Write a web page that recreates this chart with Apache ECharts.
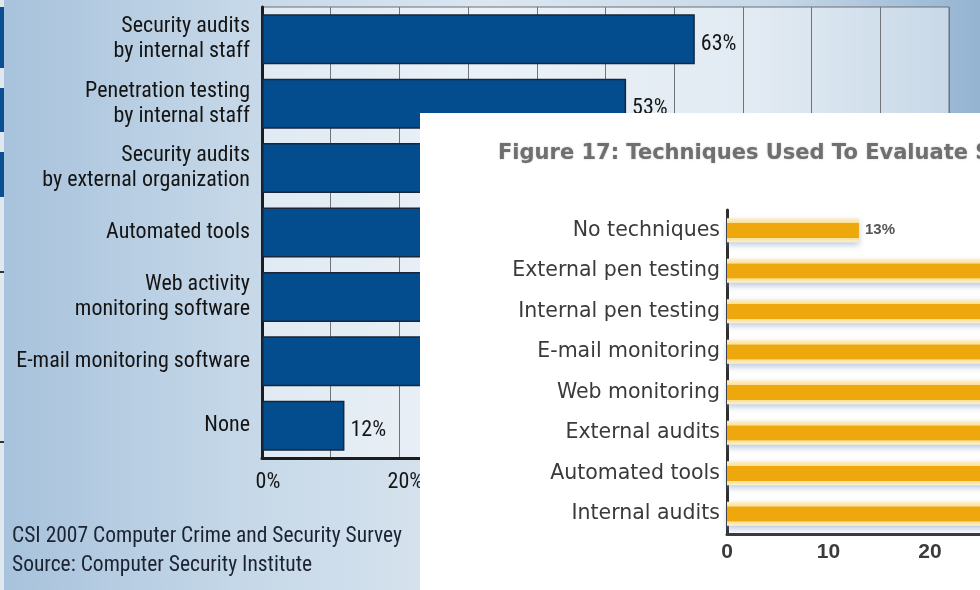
<!DOCTYPE html>
<html>
<head>
<meta charset="utf-8">
<script src="https://cdn.jsdelivr.net/npm/echarts@6/dist/echarts.min.js"></script>
<style>
  html, body { margin: 0; padding: 0; background: #fff; }
  #chart { width: 980px; height: 590px; }
</style>
</head>
<body>
<div id="chart"></div>
<script>
// CSI 2007 survey: security evaluation techniques (percent of respondents)
const csiCategories = [
  'Security audits\nby internal staff',
  'Penetration testing\nby internal staff',
  'Security audits\nby external organization',
  'Automated tools',
  'Web activity\nmonitoring software',
  'E-mail monitoring software',
  'None'
];
const csiValues = [63, 53, 49, 49, 46, 39, 12];
const csiTickLabels = ['0%', '20%', '40%', '60%', '80%', '100%'];

// Figure 17: techniques used to evaluate security
const figCategories = [
  'No techniques',
  'External pen testing',
  'Internal pen testing',
  'E-mail monitoring',
  'Web monitoring',
  'External audits',
  'Automated tools',
  'Internal audits'
];
const figValues = [13, 41, 46, 47, 49, 49, 55, 64];

const narrow = "'Roboto Condensed', 'Liberation Sans', sans-serif";
const plain = "'Liberation Sans', Arial, sans-serif";
const wide = "'DejaVu Sans', Verdana, sans-serif";

// orange bar with a pale cream rim along its long edges
const figBarFill = {
  type: 'linear', x: 0, y: 0, x2: 0, y2: 1,
  colorStops: [
    { offset: 0, color: '#fdf0cc' },
    { offset: 0.19, color: '#fbe09a' },
    { offset: 0.21, color: '#eea80e' },
    { offset: 0.81, color: '#eea80e' },
    { offset: 0.83, color: '#fbe09a' },
    { offset: 1, color: '#fdf0cc' }
  ]
};

const chart = echarts.init(document.getElementById('chart'), null, { renderer: 'canvas' });

chart.setOption({
  animation: false,
  backgroundColor: {
    type: 'linear', x: 0, y: 0, x2: 1, y2: 0,
    colorStops: [
      { offset: 0, color: '#a7c2dc' },
      { offset: 0.25, color: '#c6d8e8' },
      { offset: 0.5, color: '#dbe6f0' },
      { offset: 0.78, color: '#c9d9e8' },
      { offset: 1, color: '#94b4d2' }
    ]
  },
  grid: [
    {
      left: 262, top: 7, width: 687, height: 451,
      outerBoundsMode: 'none',
      show: true, backgroundColor: 'rgba(255,255,255,0.45)',
      borderColor: '#6c7076', borderWidth: 1, z: 0
    },
    { left: 727, top: 210, width: 812, height: 324, outerBoundsMode: 'none', z: 11 }
  ],
  xAxis: [
    {
      gridIndex: 0, type: 'value', min: 0, max: 100, interval: 10,
      axisLine: { show: true, lineStyle: { color: '#1c1c1c', width: 3 } },
      axisTick: { show: false },
      splitLine: { show: true, lineStyle: { color: '#6f747a', width: 1 } },
      axisLabel: {
        formatter: v => (v % 20 === 0 ? csiTickLabels[v / 20] : ''),
        fontFamily: narrow, fontSize: 22, color: '#161616',
        margin: 13, padding: [0, 0, 0, 12]
      }
    },
    {
      gridIndex: 1, type: 'value', min: 0, max: 80, interval: 10, z: 12,
      axisLine: { show: true, lineStyle: { color: '#3a3a3a', width: 3 } },
      axisTick: { show: false },
      splitLine: { show: false },
      axisLabel: {
        fontFamily: plain, fontWeight: 'bold', fontSize: 21,
        color: '#3b3b3b', margin: 8
      }
    }
  ],
  yAxis: [
    {
      gridIndex: 0, type: 'category', data: csiCategories, inverse: true,
      axisLine: { show: true, lineStyle: { color: '#1c1c1c', width: 3 } },
      axisTick: { show: false },
      axisLabel: {
        fontFamily: narrow, fontSize: 22, lineHeight: 25,
        color: '#141414', margin: 12, align: 'right'
      }
    },
    {
      gridIndex: 1, type: 'category', data: figCategories, inverse: true, z: 12,
      axisLine: { show: true, lineStyle: { color: '#2e2e2e', width: 3 } },
      axisTick: { show: false },
      axisLabel: {
        fontFamily: wide, fontSize: 20.5, color: '#3a3a3a', margin: 7
      }
    }
  ],
  series: [
    {
      type: 'bar', xAxisIndex: 0, yAxisIndex: 0, data: csiValues,
      barWidth: 50, z: 2,
      itemStyle: { color: '#034d8e', borderColor: '#17263a', borderWidth: 1.5 },
      label: {
        show: true, position: 'right', distance: 6, offset: [0, 5],
        formatter: p => p.value + '%',
        fontFamily: narrow, fontSize: 22, color: '#161616'
      }
    },
    {
      type: 'bar', xAxisIndex: 1, yAxisIndex: 1, data: figValues,
      barWidth: 24, z: 13,
      itemStyle: {
        color: figBarFill,
        shadowColor: 'rgba(120,150,195,0.5)', shadowBlur: 6, shadowOffsetY: 3
      },
      label: {
        show: true, position: 'right', distance: 6,
        formatter: p => p.value + '%',
        fontFamily: plain, fontWeight: 'bold', fontSize: 15, color: '#555'
      }
    }
  ],
  graphic: {
    elements: [
      // edge of a neighbouring figure along the left border
      { type: 'rect', shape: { x: 0, y: 0, width: 4, height: 590 }, style: { fill: '#dfe7ef' }, z: 1 },
      { type: 'rect', shape: { x: 0, y: 7, width: 4, height: 61 }, style: { fill: '#0a4f92' }, z: 1 },
      { type: 'rect', shape: { x: 0, y: 88, width: 4, height: 44 }, style: { fill: '#0a4f92' }, z: 1 },
      { type: 'rect', shape: { x: 0, y: 152, width: 4, height: 45 }, style: { fill: '#0a4f92' }, z: 1 },
      { type: 'rect', shape: { x: 0, y: 271, width: 4, height: 2 }, style: { fill: '#333' }, z: 1 },
      { type: 'rect', shape: { x: 0, y: 441, width: 4, height: 2 }, style: { fill: '#333' }, z: 1 },
      // source caption
      {
        type: 'text', left: 12, top: 526, z: 5,
        style: { text: 'CSI 2007 Computer Crime and Security Survey', font: '21.5px ' + narrow, fill: '#1b2333' }
      },
      {
        type: 'text', left: 12, top: 555, z: 5,
        style: { text: 'Source: Computer Security Institute', font: '21.5px ' + narrow, fill: '#1b2333' }
      },
      // white panel of the second figure
      { type: 'rect', shape: { x: 420, y: 113, width: 560, height: 477 }, style: { fill: '#ffffff' }, z: 10 },
      {
        type: 'text', left: 498, top: 143, z: 20,
        style: {
          text: 'Figure 17: Techniques Used To Evaluate Security',
          font: 'bold 21px ' + wide, fill: '#6f6f6f',
          textShadowColor: 'rgba(0,0,0,0.25)', textShadowBlur: 2
        }
      }
    ]
  }
});
</script>
</body>
</html>
